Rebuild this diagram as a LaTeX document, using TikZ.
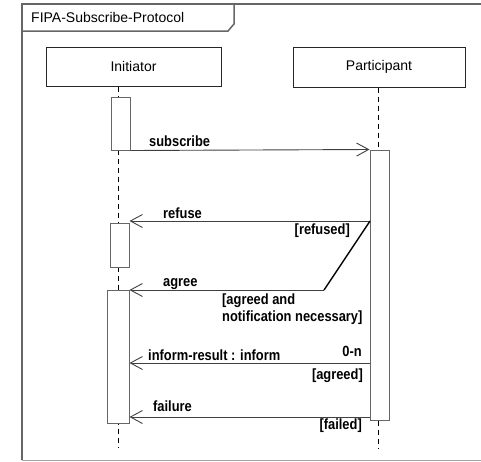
\documentclass[tikz,border=0pt]{standalone}
\usepackage{fontspec}
\setmainfont{Liberation Sans}
\newfontfamily\lblfont{Liberation Sans}[FakeStretch=0.87]
\usetikzlibrary{arrows.meta}
\begin{document}
\begin{tikzpicture}[x=1pt,y=-1pt,
  frameline/.style={draw=black!60,line width=1.5pt},
  headbox/.style={draw=black!85,line width=1pt,fill=white,inner sep=0pt,
    font=\fontsize{14}{16}\selectfont},
  lifeline/.style={draw=black,line width=0.9pt,dash pattern=on 5pt off 4pt},
  actbox/.style={draw=black!60,line width=1pt,fill=white,inner sep=0pt},
  msg/.style={draw=black!75,line width=0.9pt,
    -{Straight Barb[length=12pt,width=13pt,line width=0.9pt]}},
  branch/.style={draw=black,line width=1.4pt},
  lbl/.style={font=\lblfont\fontsize{14.8}{17}\selectfont\bfseries,inner sep=0pt},
]
\useasboundingbox (0,0) rectangle (481,461);

% diagram frame with its name tab
\draw[frameline] (490,4) -- (22,4) -- (22,460);
\draw[draw=black!35,line width=1pt] (22,460) -- (490,460);
\draw[frameline] (22,31) -- (228,31) -- (234,24) -- (234,4);
\node[anchor=west,inner sep=0pt,font=\fontsize{14}{16}\selectfont] (title) at (31,17) {FIPA-Subscribe-Protocol};

% roles
\node[headbox,minimum width=175pt,minimum height=39pt] (init) at (133.5,66.5) {Initiator};
\node[headbox,minimum width=172pt,minimum height=40pt] (part) at (379,67) {Participant};

% lifelines
\coordinate (initEnd) at (118,448);
\coordinate (partEnd) at (378,448);
\draw[lifeline] (init.south -| initEnd) -- (initEnd);
\draw[lifeline] (part.south -| partEnd) -- (partEnd);

% activations
\node[actbox,minimum width=19pt,minimum height=53pt] (a1) at (120.5,123.5) {};
\node[actbox,minimum width=19pt,minimum height=44pt] (a2) at (119.5,245) {};
\node[actbox,minimum width=22pt,minimum height=133pt] (a3) at (118,356.5) {};
\node[actbox,minimum width=19pt,minimum height=270pt] (p1) at (379.5,285) {};

% message anchor points on the participant side
\coordinate (rf) at (370,221);
\coordinate (ag) at (324,290);
\coordinate (inf) at (370,363);
\coordinate (fl) at (370,417);

% messages
\draw[msg] (a1.south east) -- (p1.north west);
\draw[msg] (rf) -- (a2.east |- rf);
\draw[branch] (rf) -- (ag);
\draw[msg] (ag) -- (a3.east |- ag);
\draw[msg] (inf) -- (a3.east |- inf);
\draw[msg] (fl) -- (a3.east |- fl);

% message labels and guards
\node[lbl,anchor=base west] (lsub) at (149,146) {subscribe};
\node[lbl,anchor=base west] (lref) at (163,218) {refuse};
\node[lbl,anchor=base east] (gref) at (350,234) {[refused]};
\node[lbl,anchor=base west] (lagr) at (163,286) {agree};
\node[lbl,anchor=base west] (gagr1) at (222,304) {[agreed and};
\node[lbl,anchor=base west] (gagr2) at (222,321) {notification necessary]};
\node[lbl,anchor=base west] (linf) at (148,360) {inform-result : inform};
\node[lbl,anchor=base east] (mult) at (362,356) {0-n};
\node[lbl,anchor=base east] (ginf) at (363,379) {[agreed]};
\node[lbl,anchor=base west] (lfail) at (153,411) {failure};
\node[lbl,anchor=base east] (gfail) at (362,429) {[failed]};
\end{tikzpicture}
\end{document}
